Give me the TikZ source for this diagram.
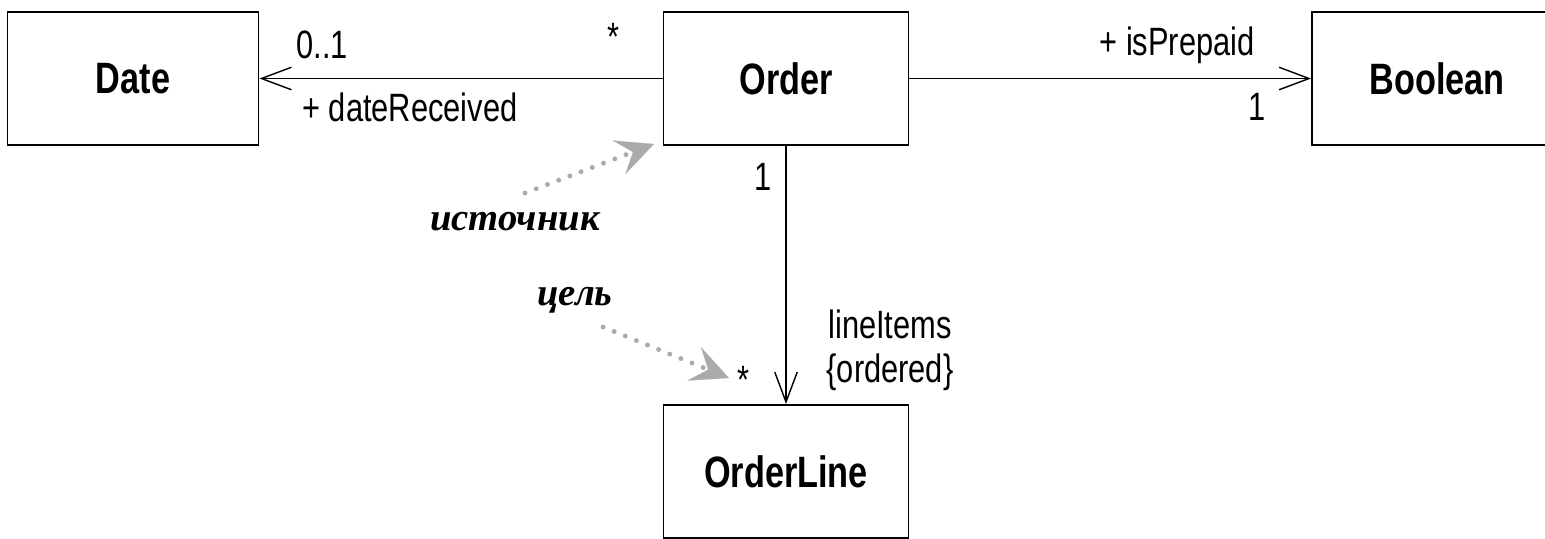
\documentclass[tikz,border=0pt]{standalone}
\usepackage{fontspec}
\setmainfont{Liberation Sans}[FakeStretch=0.78]
\newfontfamily\handfont{Liberation Serif}
\usetikzlibrary{arrows.meta}
\definecolor{mygray}{RGB}{170,170,170}
\tikzset{
  classbox/.style={draw, line width=1.1pt, minimum width=4.9cm, minimum height=2.66cm, font=\fontsize{25}{28}\selectfont\bfseries},
  assoc/.style={line width=0.8pt, -{Straight Barb[length=0.6cm,width=0.45cm]}},
  lbl/.style={font=\fontsize{22.5}{25}\selectfont, inner sep=0pt},
  note/.style={font=\handfont\bfseries\itshape\fontsize{22}{24}\selectfont, inner sep=0pt},
  pointer/.style={mygray, line width=2.8pt, line cap=round, dash pattern=on 0pt off 0.24cm, -{Stealth[length=0.75cm,width=0.72cm,inset=0.3cm,line width=0.1pt]}}
}

\begin{document}
\begin{tikzpicture}[x=0.02cm, y=-0.02cm]
            \clip (0,0) rectangle (1545,538);
            \node[classbox, minimum width=5.02cm] (date) at (133,78.5) {Date};
            \node[classbox] (order) at (786,78.5) {Order};
            \node[classbox, minimum width=5cm] (boolean) at (1437,78.5) {Boolean};
            \node[classbox] (orderline) at (786,471.5) {OrderLine};
            \draw[assoc] (order) -- (date);
            \draw[assoc] (order) -- (boolean);
            \draw[assoc] (order.south) -- (orderline.north);
            \node[lbl] (datemult) at (322,45) {0..1};
            \node[lbl] (ordermult) at (613,37) {*};
            \node[lbl] (daterole) at (410,107) {+ dateReceived};
            \node[lbl] (prepaidrole) at (1177,45) {+ isPrepaid};
            \node[lbl] (boolmult) at (1257,107) {1};
            \node[lbl] (onemult) at (763,177) {1};
            \node[lbl, align=center] (linerole) at (890,350) {lineItems\\\{ordered\}};
            \node[lbl] (manymult) at (743,380) {*};
            \node[note] (source) at (515,222) {источник};
            \node[note] (target) at (575,300) {цель};
            \coordinate (srctail) at (525,193);
            \coordinate (srctip) at (654,144);
            \coordinate (tgttail) at (603,327);
            \coordinate (tgttip) at (729,378);
            \draw[pointer] (srctail) -- (srctip);
            \draw[pointer] (tgttail) -- (tgttip);
\end{tikzpicture}
\end{document}
